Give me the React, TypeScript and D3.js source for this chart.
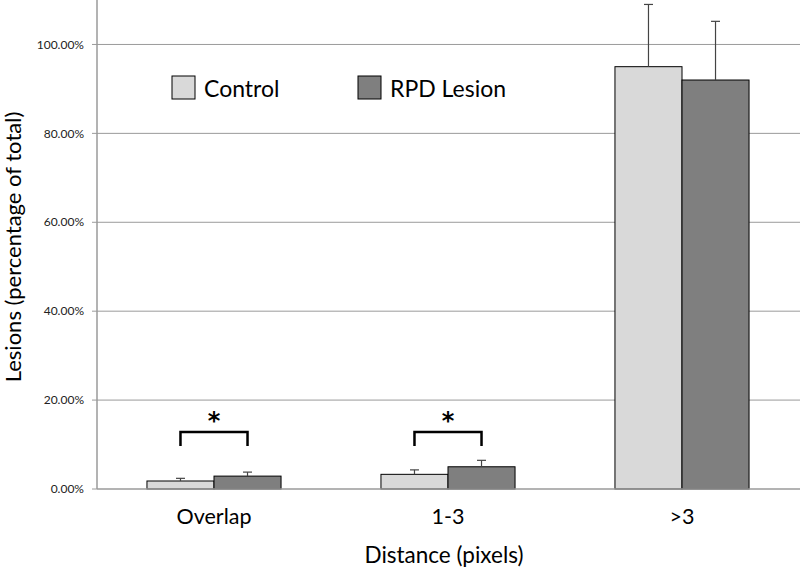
import React from "react";
import * as d3 from "d3";

const categories = ["Overlap", "1-3", ">3"];
const seriesNames = ["Control", "RPD Lesion"];
const controlValues = [1.8, 3.3, 95.0];
const rpdValues = [2.9, 5.0, 92.0];
const controlErrors = [0.6, 1.0, 14.0];
const rpdErrors = [0.9, 1.45, 13.2];
const yTicks = [0, 20, 40, 60, 80, 100];
const significant = [true, true, false];

const W = 800;
const H = 572;
const left = 97;
const right = 799;
const top = 0;
const bottom = 489;
const FONT = "Lato, 'Open Sans', sans-serif";
const fills = ["#d9d9d9", "#7f7f7f"];

export default function App() {
  const x = d3
    .scaleBand<string>()
    .domain(categories)
    .range([left, right])
    .paddingInner(0.427)
    .paddingOuter(0.2135);
  const xs = d3
    .scaleBand<string>()
    .domain(seriesNames)
    .range([0, x.bandwidth()]);
  const y = d3.scaleLinear().domain([0, 110]).range([bottom, top]);

  const series = [
    { name: seriesNames[0], values: controlValues, errors: controlErrors },
    { name: seriesNames[1], values: rpdValues, errors: rpdErrors },
  ];
  const fmt = (v: number) => v.toFixed(2) + "%";

  return (
    <svg
      width={W}
      height={H}
      style={{ position: "absolute", left: 0, top: 0, background: "#fff" }}
    >
      {/* gridlines */}
      {yTicks.slice(1).map((t) => (
        <line key={t} x1={left} x2={W} y1={y(t)} y2={y(t)} stroke="#9a9a9a" strokeWidth={1} />
      ))}
      {/* y ticks and labels */}
      {yTicks.map((t) => (
        <g key={"t" + t}>
          <line x1={left - 5} x2={left} y1={y(t)} y2={y(t)} stroke="#9a9a9a" />
          <text
            x={84}
            y={y(t)}
            dy="0.35em"
            textAnchor="end"
            fontFamily={FONT}
            fontSize={12}
            fill="#222"
          >
            {fmt(t)}
          </text>
        </g>
      ))}
      {/* bars */}
      {series.map((s, si) =>
        categories.map((c, ci) => {
          const bx = (x(c) as number) + (xs(s.name) as number);
          const bw = xs.bandwidth();
          return (
            <rect
              key={s.name + c}
              x={bx}
              y={y(s.values[ci])}
              width={bw}
              height={y(0) - y(s.values[ci])}
              fill={fills[si]}
              stroke="#000"
              strokeWidth={1}
            />
          );
        })
      )}
      {/* error bars */}
      {series.map((s, si) =>
        categories.map((c, ci) => {
          const cx = (x(c) as number) + (xs(s.name) as number) + xs.bandwidth() / 2;
          const y1 = y(s.values[ci]);
          const y2 = y(s.values[ci] + s.errors[ci]);
          return (
            <g key={"e" + s.name + c} stroke="#444" strokeWidth={1.2}>
              <line x1={cx} x2={cx} y1={y1} y2={y2} />
              <line x1={cx - 4.5} x2={cx + 4.5} y1={y2} y2={y2} />
            </g>
          );
        })
      )}
      {/* axis lines */}
      <line x1={left} x2={W} y1={bottom} y2={bottom} stroke="#9a9a9a" strokeWidth={1.5} />
      <line x1={left} x2={left} y1={0} y2={bottom} stroke="#9a9a9a" strokeWidth={1.5} />
      {/* significance brackets */}
      {categories.map((c, ci) => {
        if (!significant[ci]) return null;
        const x1 = (x(c) as number) + (xs(seriesNames[0]) as number) + xs.bandwidth() / 2;
        const x2 = (x(c) as number) + (xs(seriesNames[1]) as number) + xs.bandwidth() / 2;
        const by = 432;
        return (
          <g key={"b" + c}>
            <path
              d={`M${x1},${by + 14} V${by} H${x2} V${by + 14}`}
              fill="none"
              stroke="#000"
              strokeWidth={2.5}
            />
            <text
              x={(x1 + x2) / 2}
              y={429}
              textAnchor="middle"
              fontFamily="'DejaVu Sans', sans-serif"
              fontSize={24}
              fontWeight="bold"
              fill="#000"
            >
              *
            </text>
          </g>
        );
      })}
      {/* x labels */}
      {categories.map((c) => (
        <text
          key={"x" + c}
          x={(x(c) as number) + x.bandwidth() / 2}
          y={524}
          textAnchor="middle"
          fontFamily={FONT}
          fontSize={21.5}
          fill="#000"
        >
          {c}
        </text>
      ))}
      <text
        x={(left + right) / 2 - 4}
        y={563}
        textAnchor="middle"
        fontFamily={FONT}
        fontSize={22.5}
        fill="#000"
      >
        Distance (pixels)
      </text>
      <text
        transform={`translate(21,${247}) rotate(-90)`}
        textAnchor="middle"
        fontFamily={FONT}
        fontSize={22}
        fill="#000"
      >
        Lesions (percentage of total)
      </text>
      {/* legend */}
      {seriesNames.map((n, i) => {
        const lx = [172, 358][i];
        return (
          <g key={"l" + n}>
            <rect x={lx} y={76} width={23} height={23} fill={fills[i]} stroke="#000" strokeWidth={1} />
            <text x={lx + 32} y={97} fontFamily={FONT} fontSize={23} fill="#000">
              {n}
            </text>
          </g>
        );
      })}
    </svg>
  );
}
